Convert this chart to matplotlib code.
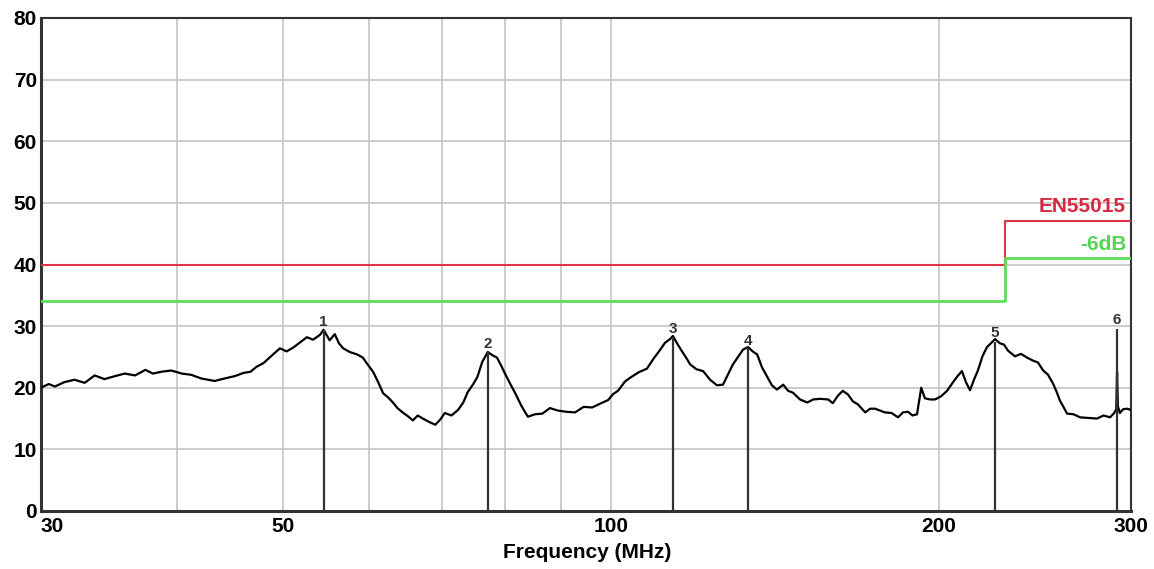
import matplotlib
matplotlib.use("Agg")
import matplotlib.pyplot as plt
from matplotlib.ticker import FixedLocator, NullFormatter, NullLocator

plt.rcParams['font.family'] = ['Liberation Sans', 'DejaVu Sans']

# Measured trace (frequency in MHz, level in dBuV/m), rows of 10 aligned
freq = [30.06, 30.5, 30.9, 31.5, 32.2, 32.9, 33.6, 34.3, 35.1, 35.8,
        36.6, 37.4, 38.0, 38.7, 39.5, 40.4, 41.2, 42.1, 43.3, 44.2,
        45.2, 46.0, 46.7, 47.3, 48.0, 48.9, 49.7, 50.4, 51.1, 51.8,
        52.6, 53.3, 54.1, 54.5, 55.2, 55.8, 56.3, 56.8, 57.6, 58.5,
        59.2, 59.8, 60.5, 61.2, 61.8, 62.4, 63.1, 63.7, 64.4, 65.1,
        65.8, 66.5, 67.2, 68.2, 69.0, 69.7, 70.4, 71.4, 72.4, 73.2,
        73.9, 74.7, 75.4, 76.2, 77.1, 77.8, 78.6, 79.3, 80.0, 80.8,
        81.7, 82.8, 83.9, 85.2, 86.5, 87.9, 89.4, 91.0, 92.7, 94.4,
        96.1, 97.7, 99.4, 100.5, 101.5, 103.0, 104.1, 106.0, 107.9, 109.4,
        110.9, 112.1, 113.3, 114.0, 115.0, 116.2, 117.2, 118.2, 119.8, 121.5,
        123.3, 125.1, 126.7, 128.0, 129.4, 130.8, 132.2, 133.6, 134.9, 136.2,
        137.6, 139.1, 140.5, 142.0, 143.9, 145.4, 146.9, 149.1, 151.4, 153.3,
        155.6, 158.2, 159.8, 161.5, 163.2, 165.0, 166.7, 168.5, 171.1, 172.9,
        174.7, 176.5, 178.4, 180.9, 183.4, 185.3, 187.3, 189.1, 190.9, 191.5,
        192.6, 194.1, 196.2, 198.3, 200.8, 203.4, 206.0, 208.0, 209.9, 211.7,
        213.5, 215.3, 217.1, 219.2, 221.3, 223.7, 225.1, 227.5, 229.4, 231.4,
        234.8, 237.8, 240.8, 243.9, 246.5, 249.2, 251.8, 254.4, 256.3, 258.2,
        260.1, 262.1, 265.7, 269.4, 274.3, 279.2, 283.1, 287.0, 289.5, 290.8,
        291.3, 291.8, 293.0, 295.0, 297.5, 300.0]
level = [20.1, 20.6, 20.2, 20.9, 21.3, 20.8, 22.0, 21.4, 21.9, 22.3,
         22.0, 22.9, 22.3, 22.6, 22.8, 22.3, 22.1, 21.5, 21.1, 21.5,
         21.9, 22.4, 22.6, 23.4, 24.0, 25.3, 26.4, 25.9, 26.5, 27.3,
         28.2, 27.8, 28.6, 29.4, 27.7, 28.7, 27.2, 26.4, 25.8, 25.4,
         24.9, 23.8, 22.6, 20.8, 19.1, 18.5, 17.6, 16.7, 16.0, 15.4,
         14.7, 15.5, 15.0, 14.4, 14.0, 14.8, 15.9, 15.5, 16.4, 17.6,
         19.3, 20.5, 21.7, 24.2, 25.8, 25.3, 24.9, 23.6, 22.2, 20.7,
         19.1, 17.0, 15.3, 15.7, 15.8, 16.7, 16.3, 16.1, 16.0, 16.9,
         16.8, 17.4, 18.0, 19.0, 19.5, 21.0, 21.6, 22.5, 23.1, 24.7,
         26.1, 27.3, 27.9, 28.4, 27.2, 25.9, 24.9, 23.8, 23.0, 22.7,
         21.3, 20.4, 20.5, 22.1, 23.8, 25.0, 26.2, 26.6, 25.9, 25.4,
         23.3, 21.8, 20.4, 19.7, 20.5, 19.5, 19.2, 18.1, 17.6, 18.1,
         18.2, 18.1, 17.5, 18.7, 19.5, 18.9, 17.8, 17.3, 16.0, 16.6,
         16.6, 16.3, 16.0, 15.9, 15.2, 16.0, 16.1, 15.5, 15.7, 17.2,
         20.0, 18.3, 18.1, 18.1, 18.6, 19.5, 20.9, 21.9, 22.7, 20.9,
         19.6, 21.3, 22.8, 25.1, 26.6, 27.4, 27.9, 27.2, 27.0, 26.0,
         25.1, 25.5, 24.9, 24.4, 24.1, 22.8, 22.1, 20.7, 19.4, 17.9,
         16.9, 15.8, 15.7, 15.2, 15.1, 15.0, 15.5, 15.2, 15.9, 16.5,
         22.6, 17.0, 15.9, 16.5, 16.6, 16.4]

# Limit lines (step at 230 MHz)
limit_freq = [30, 230, 230, 300]
en55015 = [40, 40, 47, 47]
minus6db = [34, 34, 41, 41]

# Markers
marker_ids = ['1', '2', '3', '4', '5', '6']
marker_freq = [54.5, 77.1, 114.0, 133.6, 225.1, 291.3]
marker_level = [29.4, 25.8, 28.2, 26.3, 27.5, 29.6]

xticks = [30, 50, 100, 200, 300]
xtick_labels = ['30', '50', '100', '200', '300']
xgrid = [40, 50, 60, 70, 80, 90, 100, 200]
yticks = [0, 10, 20, 30, 40, 50, 60, 70, 80]

fig = plt.figure(figsize=(11.54, 5.69), dpi=100)
ax = fig.add_axes([41 / 1154, 1 - 511 / 569, 1090 / 1154, 493 / 569])

ax.set_xscale('log')
ax.set_xlim(30, 300)
ax.set_ylim(0, 80)

for g in xgrid:
    ax.axvline(g, color='#c4c4c4', lw=1.2, zorder=0)
for g in yticks[1:-1]:
    ax.axhline(g, color='#c4c4c4', lw=1.2, zorder=0)

ax.plot(limit_freq, en55015, color='#e0344a', lw=1.5, zorder=3)
ax.plot(limit_freq, minus6db, color='#5fdc5a', lw=2.0, zorder=3)

ax.plot(freq, level, color='black', lw=1.6, zorder=4)

for mid, mf, ml in zip(marker_ids, marker_freq, marker_level):
    ax.vlines(mf, 0, ml, color='#333333', lw=1.6, zorder=5)
    ax.text(mf, ml + 0.2, mid, ha='center', va='bottom', fontsize=11,
            fontweight='bold', color='#333333', zorder=6)

ax.text(297, 47.8, 'EN55015', color='#d8283f', fontsize=15, fontweight='bold',
        ha='right', va='bottom')
ax.text(297, 41.7, '-6dB', color='#55d650', fontsize=15, fontweight='bold',
        ha='right', va='bottom')

ax.xaxis.set_major_locator(FixedLocator(xticks))
ax.xaxis.set_minor_locator(NullLocator())
ax.xaxis.set_minor_formatter(NullFormatter())
ax.set_xticklabels(xtick_labels, fontsize=15, fontweight='bold')
ax.get_xticklabels()[0].set_horizontalalignment('left')
ax.set_yticks(yticks)
ax.set_yticklabels([str(v) for v in yticks], fontsize=15, fontweight='bold')
ax.tick_params(axis='both', length=0, pad=3)
ax.tick_params(axis='x', pad=4)
fig.text(587 / 1154, 1 - 552 / 569, 'Frequency (MHz)', fontsize=15,
         fontweight='bold', ha='center', va='center')

for s in ax.spines.values():
    s.set_color('#333333')
    s.set_linewidth(1.5)
ax.spines['left'].set_linewidth(2.2)
ax.spines['bottom'].set_linewidth(2.2)

fig.savefig('out.png', dpi=100)
